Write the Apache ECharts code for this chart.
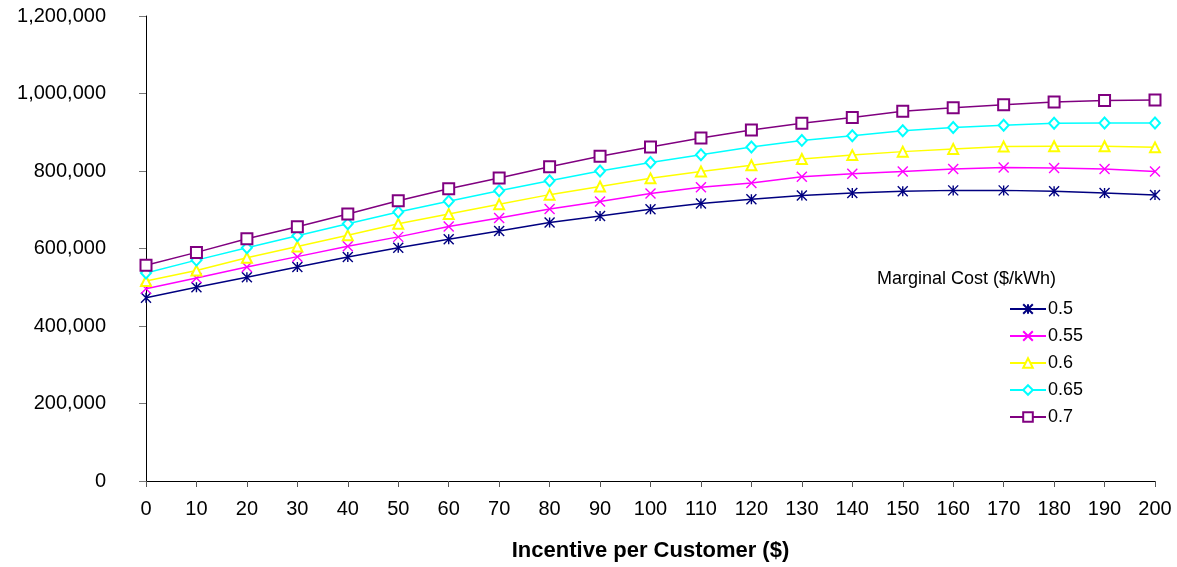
<!DOCTYPE html>
<html>
<head>
<meta charset="utf-8">
<script src="https://cdn.jsdelivr.net/npm/echarts@6/dist/echarts.min.js"></script>
<style>
html,body{margin:0;padding:0;background:#fff;}
#chart{width:1177px;height:567px;}
</style>
</head>
<body>
<div id="chart"></div>
<script>
// Incentive per customer ($)
const incentives = [0,10,20,30,40,50,60,70,80,90,100,110,120,130,140,150,160,170,180,190,200];
// Marginal cost series names ($/kWh)
const seriesNames = ['0.5','0.55','0.6','0.65','0.7'];
const s050 = [473000,500000,526000,552000,578000,602000,624000,645000,667000,684000,701000,716000,727000,737000,743000,748000,750000,750000,748000,743000,738000];
const s055 = [496000,524000,552000,579000,606000,630000,657000,679000,702000,721000,742000,758000,769000,785000,793000,799000,805000,809000,808000,805000,799000];
const s060 = [516000,543000,576000,605000,634000,664000,689000,714000,739000,760000,781000,799000,815000,831000,841000,850000,857000,863000,864000,864000,861000];
const s065 = [537000,570000,602000,633000,664000,694000,722000,749000,775000,800000,822000,842000,862000,879000,891000,904000,912000,918000,923000,924000,924000];
const s070 = [557000,590000,625000,656000,689000,723000,754000,782000,811000,838000,862000,885000,906000,923000,938000,954000,963000,971000,978000,982000,983000];
const yTicks = [0,200000,400000,600000,800000,1000000,1200000];

const seriesValues = [s050,s055,s060,s065,s070];
const colors = ['#000080','#FF00FF','#FFFF00','#00FFFF','#800080'];
const symbols = [
  'path://M0,0L10,10M10,0L0,10M5,0L5,10',
  'path://M0,0L10,10M10,0L0,10',
  'emptyTriangle',
  'emptyDiamond',
  'emptyRect'
];

const chart = echarts.init(document.getElementById('chart'), null, {renderer:'canvas'});
const fontFam = 'Liberation Sans, Arial, sans-serif';

const series = seriesNames.map((name,i)=>({
  name: name,
  type: 'line',
  data: incentives.map((x,j)=>[x, seriesValues[i][j]]),
  symbol: symbols[i],
  symbolSize: i===3 ? [10,11] : (i===4 ? 11 : 10),
  showAllSymbol: true,
  lineStyle: {color: colors[i], width: 1.5},
  itemStyle: {color: colors[i], borderColor: colors[i], borderWidth: 1.4},
  emphasis: {disabled: true},
  z: 2 + i
}));

chart.setOption({
  animation: false,
  backgroundColor: '#fff',
  grid: {left: 146, right: 22, top: 16, bottom: 85, containLabel: false},
  xAxis: {
    type: 'value', min: 0, max: 200, interval: 10,
    name: 'Incentive per Customer ($)',
    nameLocation: 'middle', nameGap: 59,
    nameTextStyle: {fontFamily: fontFam, fontSize: 22, fontWeight: 'bold', color: '#000'},
    axisLine: {show: true, lineStyle: {color: '#000', width: 1}},
    axisTick: {show: true, length: 6, lineStyle: {color: '#555'}},
    axisLabel: {fontFamily: fontFam, fontSize: 20, color: '#000', margin: 18},
    splitLine: {show: false}
  },
  yAxis: {
    type: 'value', min: yTicks[0], max: yTicks[yTicks.length-1], interval: 200000,
    axisLine: {show: true, lineStyle: {color: '#000', width: 1}},
    axisTick: {show: true, length: 7, lineStyle: {color: '#777'}},
    axisLabel: {fontFamily: fontFam, fontSize: 20, color: '#000', margin: 40,
      formatter: v => v.toLocaleString('en-US')},
    splitLine: {show: false}
  },
  legend: {
    orient: 'vertical',
    left: 1004, top: 295,
    itemWidth: 36, itemHeight: 12, itemGap: 9,
    textStyle: {fontFamily: fontFam, fontSize: 18, color: '#000', lineHeight: 18, padding: [0,0,0,-3]},
    data: seriesNames
  },
  graphic: [{
    type: 'text', left: 877, top: 270,
    style: {text: 'Marginal Cost ($/kWh)', font: '18px ' + fontFam, fill: '#000'}
  }],
  series: series
});
</script>
</body>
</html>
